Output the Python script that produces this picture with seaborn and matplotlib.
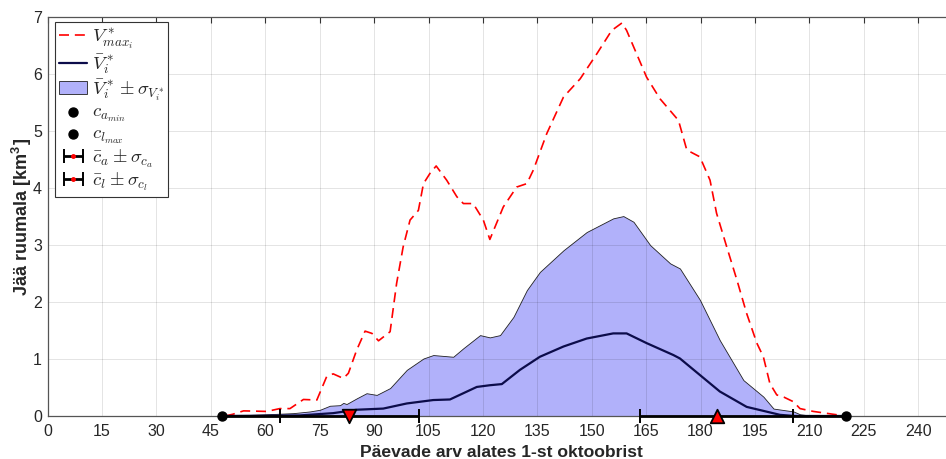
import matplotlib
matplotlib.use("Agg")
import matplotlib.pyplot as plt
import seaborn as sns
import numpy as np

# ---- data ----
days_max = [48.9, 51, 54, 60.4, 64, 66.8, 70.5, 74.2, 76.9, 78.7, 81.5, 82.9, 85.2, 87.5,
            89.4, 91.2, 94.4, 96.2, 98.0, 99.9, 102.2, 103.6, 105.4, 107.1, 110.0, 112.8,
            114.6, 117.3, 120.1, 121.9, 125.6, 129.3, 132.1, 133.9, 137.6, 142.2, 146.8,
            151.4, 155.5, 158.3, 159.6, 165.1, 168.8, 173.9, 176.2, 179.8, 182.6, 184.4,
            187.2, 190.0, 192.7, 195.5, 197.3, 199.1, 201.0, 203, 205.6, 207.4, 211.1,
            216.6, 220]
v_max = [0, 0.03, 0.09, 0.08, 0.13, 0.13, 0.29, 0.28, 0.69, 0.74, 0.66, 0.75, 1.16, 1.49,
         1.45, 1.32, 1.48, 2.33, 2.97, 3.44, 3.61, 4.08, 4.26, 4.39, 4.14, 3.85,
         3.73, 3.73, 3.44, 3.10, 3.67, 4.02, 4.08, 4.32, 4.96, 5.60, 5.92,
         6.36, 6.77, 6.90, 6.77, 5.95, 5.57, 5.19, 4.67, 4.55, 4.14, 3.56,
         2.97, 2.39, 1.80, 1.28, 1.04, 0.57, 0.37, 0.33, 0.25, 0.13, 0.08,
         0.03, 0]

days_up = [48, 60.4, 67.7, 72.3, 75.1, 77.8, 80.6, 81.5, 82.4, 85.2, 87.9, 90.7, 94.4,
           99.0, 103.6, 106.3, 111.8, 114.6, 119.2, 121.9, 124.7, 128.4, 132.1, 135.7,
           142.2, 148.6, 155.9, 158.7, 161.5, 166.1, 171.6, 174.3, 179.8, 185.3, 191.8,
           197.3, 200.1, 205.6, 207.4, 210, 220]
v_up = [0, 0.03, 0.05, 0.08, 0.11, 0.18, 0.19, 0.23, 0.21, 0.31, 0.40, 0.37, 0.49,
        0.81, 1.01, 1.07, 1.04, 1.19, 1.42, 1.38, 1.42, 1.74, 2.21, 2.53,
        2.91, 3.23, 3.47, 3.51, 3.41, 3.00, 2.68, 2.59, 2.04, 1.33, 0.63,
        0.34, 0.13, 0.08, 0.03, 0.01, 0]

days_mean = [48, 69.5, 78.7, 85.2, 92.5, 99, 106.3, 110.9, 114.6, 118.3, 121.9, 125.2,
             130.2, 135.7, 142.2, 148.6, 155.9, 159.6, 165.1, 172.5, 174.3, 179.8,
             185.3, 192.7, 197.3, 201.9, 206, 220]
v_mean = [0, 0.01, 0.05, 0.11, 0.13, 0.22, 0.28, 0.29, 0.40, 0.51, 0.54, 0.56,
          0.81, 1.04, 1.22, 1.36, 1.45, 1.45, 1.28, 1.07, 1.01, 0.72,
          0.43, 0.16, 0.09, 0.02, 0.0, 0]

ca_min = [48.1]
cl_max = [220.2]
ca_mean, ca_std = [83.2], [19.2]
cl_mean, cl_std = [184.4], [21.2]

x_ticks = list(range(0, 241, 15))
y_ticks = list(range(0, 8))

# ---- style ----
sns.set_style("white")
plt.rcParams['font.family'] = ['Liberation Sans', 'DejaVu Sans']
plt.rcParams['mathtext.fontset'] = 'cm'

fig = plt.figure(figsize=(9.46, 4.59), dpi=100)
ax = fig.add_axes([0.0504, 0.0937, 0.9586, 0.8686])

fill = ax.fill_between(days_up, 0, v_up, facecolor='#b1b1fa', edgecolor='#202020',
                       linewidth=0.6, zorder=1, label=r'$\bar{V}^*_i \pm \sigma_{V^*_i}$')

sns.lineplot(x=days_max, y=v_max, ax=ax, color='#ff0000', linewidth=1.2,
             linestyle=(0, (6, 3.5)), estimator=None, sort=False, zorder=3,
             label=r'$V^*_{max_i}$')
sns.lineplot(x=days_mean, y=v_mean, ax=ax, color='#0c0c4a', linewidth=1.6,
             estimator=None, sort=False, zorder=3, label=r'$\bar{V}^*_i$')

eb1 = ax.errorbar(ca_mean, [0], xerr=ca_std, fmt='o', color='k', ecolor='k',
                  mfc='r', mec='r', ms=2.5, elinewidth=2.0, capsize=5, capthick=1.4,
                  zorder=5, label=r'$\bar{c}_a \pm \sigma_{c_a}$')
eb2 = ax.errorbar(cl_mean, [0], xerr=cl_std, fmt='o', color='k', ecolor='k',
                  mfc='r', mec='r', ms=2.5, elinewidth=2.0, capsize=5, capthick=1.4,
                  zorder=5, label=r'$\bar{c}_l \pm \sigma_{c_l}$')
for eb in (eb1, eb2):
    for art in eb.get_children():
        art.set_clip_on(False)
# line along zero between the black end points
ax.plot([ca_min[0], ca_mean[0] - ca_std[0]], [0, 0], color='k', lw=2.0, zorder=4,
        clip_on=False)
ax.plot([cl_mean[0] + cl_std[0], cl_max[0]], [0, 0], color='k', lw=2.0, zorder=4,
        clip_on=False)

d1 = ax.scatter(ca_min, [0], s=42, color='k', zorder=6, clip_on=False,
                label=r'$c_{a_{min}}$')
d2 = ax.scatter(cl_max, [0], s=42, color='k', zorder=6, clip_on=False,
                label=r'$c_{l_{max}}$')
ax.scatter(ca_mean, [0], marker='v', s=95, facecolor='#ff0000', edgecolor='k',
           linewidth=1.3, zorder=7, clip_on=False)
ax.scatter(cl_mean, [0], marker='^', s=95, facecolor='#ff0000', edgecolor='k',
           linewidth=1.3, zorder=7, clip_on=False)

ax.set_xlim(0, 250)
ax.set_ylim(0, 7)
ax.set_xticks(x_ticks)
ax.set_yticks(y_ticks)
ax.set_axisbelow('line')
ax.grid(True, color='#000000', alpha=0.11, linewidth=0.7)
ax.tick_params(direction='in', top=True, right=True, length=4.5, width=0.8,
               colors='#333333', labelsize=11.5, labelcolor='#262626')
ax.tick_params(axis='x', pad=6)
ax.tick_params(axis='y', pad=4)
for s in ax.spines.values():
    s.set_color('#555555')
    s.set_linewidth(0.9)

ax.set_xlabel('Päevade arv alates 1-st oktoobrist', fontsize=12.6, fontweight='bold',
              color='#262626', labelpad=4)
ax.set_ylabel('Jää ruumala [km$^\\mathregular{3}$]', fontsize=13, fontweight='bold',
              color='#262626', labelpad=-0.5)

handles, labels = ax.get_legend_handles_labels()
order_labels = [r'$V^*_{max_i}$', r'$\bar{V}^*_i$', r'$\bar{V}^*_i \pm \sigma_{V^*_i}$',
                r'$c_{a_{min}}$', r'$c_{l_{max}}$', r'$\bar{c}_a \pm \sigma_{c_a}$',
                r'$\bar{c}_l \pm \sigma_{c_l}$']
hmap = dict(zip(labels, handles))
leg = ax.legend([hmap[l] for l in order_labels], order_labels, loc='upper left',
                bbox_to_anchor=(0.0085, 0.987), fontsize=13.5, frameon=True,
                fancybox=False, edgecolor='#333333', framealpha=1,
                handlelength=1.5, handletextpad=0.25, labelspacing=0.06,
                borderpad=0.2, borderaxespad=0)
leg.get_frame().set_linewidth(0.8)

fig.savefig('out.png', dpi=100)
